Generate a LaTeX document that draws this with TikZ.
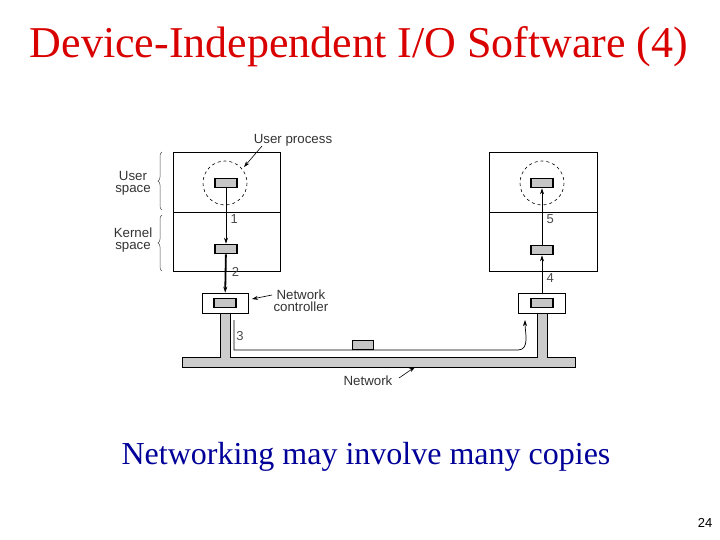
\documentclass[tikz,border=0pt]{standalone}
\usepackage{fontspec}
\setmainfont{Liberation Serif}
\newfontfamily\sansf{Liberation Sans}
\usetikzlibrary{arrows.meta,decorations.pathreplacing}
\begin{document}
\begin{tikzpicture}[x=1pt,y=-1pt,
  box/.style={draw,fill=white,line width=0.6pt},
  buf/.style={draw,fill=gray!45,line width=1.6pt,minimum width=22pt,minimum height=9pt,inner sep=0pt},
  lab/.style={font=\sansf\fontsize{13.3}{13}\selectfont,text=black!80,align=center},
  num/.style={font=\sansf\fontsize{13}{13}\selectfont,text=black!70},
  arr/.style={-{Stealth[length=6pt,width=4pt]},line width=0.7pt},
  pipe/.style={draw,fill=gray!40,line width=1pt}]
\useasboundingbox (0,0) rectangle (720,540);
\node[text=red!85!black,font=\fontsize{44}{48}\selectfont] (title) at (359,47) {Device-Independent I/O Software (4)};
\node[text=blue!60!black,font=\fontsize{32}{36}\selectfont] (sub) at (366,457) {Networking may involve many copies};
\node[font=\sansf\fontsize{13}{13}\selectfont] (pg) at (705,523) {24};
% network pipes
\draw[pipe] (182,357) -- (220,357) -- (220,313) -- (230,313) -- (230,357) -- (537,357) -- (537,313) -- (547,313) -- (547,357) -- (575,357) -- (575,367) -- (182,367) -- cycle;
% left host
\draw[box] (173,152) rectangle (280,271);
\draw[line width=0.6pt] (173,212) -- (280,212);
\draw[dashed,line width=0.6pt] (225,183) circle (22);
\node[buf] (lu) at (226,183) {};
\node[buf] (lk) at (226,249) {};
\node[box,minimum width=46pt,minimum height=20pt,inner sep=0pt] (lc) at (225,303) {};
\node[buf] (lcb) at (225,303) {};
\draw[arr] (lu) -- (lk) node[num,pos=0.55,right=1pt] {1};
\draw[arr,line width=1.8pt] (lk) -- (lc) node[num,pos=0.45,right=2pt] {2};
% right host
\draw[box] (489,152) rectangle (597,271);
\draw[line width=0.6pt] (489,212) -- (597,212);
\draw[dashed,line width=0.6pt] (542,183) circle (22);
\node[buf] (ru) at (542,183) {};
\node[buf] (rk) at (542,250) {};
\node[box,minimum width=47pt,minimum height=20pt,inner sep=0pt] (rc) at (542,303) {};
\node[buf] (rcb) at (542,303) {};
\draw[arr] (rk) -- (ru) node[num,pos=0.45,right=1pt] {5};
\draw[arr] (rc) -- (rk) node[num,pos=0.4,right=1pt] {4};
% path 3
\coordinate (p3s) at (234,320);
\coordinate (p3e) at (525,320);
\draw[arr] (p3s) -- (234,350) -- (518,350) to[out=0,in=270] (p3e);
\node[num] (n3) at (240,336) {3};
\node[buf,line width=0.6pt,minimum width=21pt,minimum height=9pt] (pkt) at (363,345) {};
% labels
\node[lab] (up) at (293,140) {User process};
\draw[arr,line width=0.6pt] (262,146) -- (244,167);
\node[lab] (us) at (133,183) {User\\[-1pt]space};
\node[lab] (ks) at (133,240) {Kernel\\[-1pt]space};
\draw[decorate,decoration={brace,amplitude=4pt,mirror},line width=0.5pt,black!70] (162,152) -- (162,210);
\draw[decorate,decoration={brace,amplitude=4pt,mirror},line width=0.5pt,black!70] (162,215) -- (162,271);
\node[lab,align=left,anchor=west] (nc) at (270,301) {\hspace*{3pt}Network\\[-1pt]controller};
\draw[arr,line width=0.6pt] (272,295) -- (252,299);
\node[lab] (nw) at (368,381) {Network};
\draw[arr,line width=0.6pt] (399,378) -- (415,367);
\end{tikzpicture}
\end{document}
